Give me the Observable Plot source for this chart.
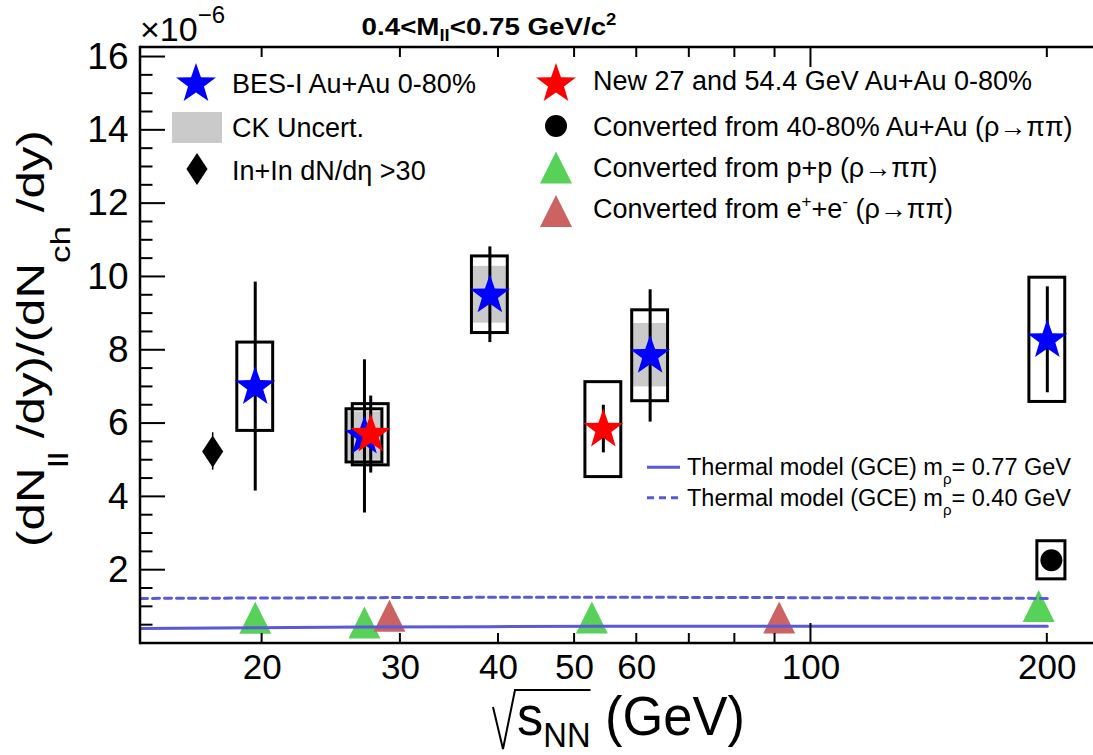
<!DOCTYPE html>
<html>
<head>
<meta charset="utf-8">
<script src="https://cdn.jsdelivr.net/npm/d3@7"></script>
<script src="https://cdn.jsdelivr.net/npm/@observablehq/plot@0.6"></script>
<style>
  body { margin: 0; background: #fff; }
  #chart svg { display: block; }
</style>
</head>
<body>
<div id="chart"></div>
<script>
// ---------------- data (values in units of 1e-6) ----------------
// BES-I Au+Au 0-80%
const besEnergy   = [19.6, 27, 39, 62.4, 200];
const besValue    = [7.0, 5.65, 9.5, 7.85, 8.28];
const besStatLow  = [4.16, 3.56, 8.21, 6.04, 6.84];
const besStatHigh = [9.86, 7.74, 10.82, 9.65, 9.73];
const besSysLow   = [5.80, 4.94, 8.47, 6.61, 6.59];
const besSysHigh  = [8.21, 6.39, 10.56, 9.09, 9.98];
// CK uncertainty bands
const ckEnergy = [27, 39, 62.4];
const ckLow    = [5.0, 8.74, 7.0];
const ckHigh   = [6.32, 10.29, 8.73];
// New 27 and 54.4 GeV Au+Au 0-80% (27 GeV point drawn slightly offset)
const newEnergy   = [27.5, 54.4];
const newValue    = [5.7, 5.84];
const newStatLow  = [4.65, 5.20];
const newStatHigh = [6.75, 6.50];
const newSysLow   = [4.86, 4.54];
const newSysHigh  = [6.53, 7.13];
// Converted from 40-80% Au+Au
const periEnergy  = [202.4];
const periValue   = [2.27];
const periSysLow  = [1.75];
const periSysHigh = [2.79];
// In+In dN/deta > 30
const inEnergy   = [17.3];
const inValue    = [5.24];
const inStatLow  = [4.73];
const inStatHigh = [5.75];
// Converted from p+p
const ppEnergy = [19.6, 27, 52.6, 195];
const ppValue  = [0.70, 0.57, 0.71, 1.02];
// Converted from e+e-
const eeEnergy = [29.05, 91.1];
const eeValue  = [0.76, 0.71];
// Thermal model (GCE)
const thermEnergy = [14, 19.6, 27, 39, 54.4, 62.4, 100, 200];
const therm077    = [0.41, 0.43, 0.45, 0.46, 0.47, 0.47, 0.47, 0.47];
const therm040    = [1.23, 1.24, 1.25, 1.26, 1.26, 1.26, 1.25, 1.23];
// axes
const xDomain = [14.0, 229];
const yDomain = [0, 16.26];
const xTickLabels = [20, 30, 40, 50, 60, 100, 200];
const xTicksShort = [20, 30, 40, 50, 60, 70, 80, 90, 200];
const xTicksLong  = [100];
const yTickLabels = [2, 4, 6, 8, 10, 12, 14, 16];
const yTicksMajor = [2, 4, 6, 8, 10, 12, 14, 16];
const yTicksMinor = d3.range(0.5, 16.26, 0.5).filter(v => v % 2 !== 0);

// ---------------- tables ----------------
const bes = besEnergy.map((e, i) => ({e, v: besValue[i], sl: besStatLow[i], sh: besStatHigh[i], yl: besSysLow[i], yh: besSysHigh[i]}));
const ck = ckEnergy.map((e, i) => ({e, lo: ckLow[i], hi: ckHigh[i]}));
const nw = newEnergy.map((e, i) => ({e, v: newValue[i], sl: newStatLow[i], sh: newStatHigh[i], yl: newSysLow[i], yh: newSysHigh[i]}));
const peri = periEnergy.map((e, i) => ({e, v: periValue[i], yl: periSysLow[i], yh: periSysHigh[i]}));
const inin = inEnergy.map((e, i) => ({e, v: inValue[i], sl: inStatLow[i], sh: inStatHigh[i]}));
const pp = ppEnergy.map((e, i) => ({e, v: ppValue[i]}));
const ee = eeEnergy.map((e, i) => ({e, v: eeValue[i]}));
const therm = thermEnergy.map((e, i) => ({e, a: therm077[i], b: therm040[i]}));

// ---------------- styles ----------------
const FONT = "'Liberation Sans', Arial, Helvetica, sans-serif";
const BLUE = "#0000ff", RED = "#ff0000", GREEN = "#58d158", ROSE = "#cc6262", LINE = "#5a5ad8", GREY = "#cacaca";
const boxF = 1.054;   // half-width of the systematic boxes (log-x factor)
const periF = 1.042;

// custom ROOT-like marker shapes
const starSym = {draw(ctx, size) {
  const R = Math.sqrt(size / Math.PI), r = R * 0.4;
  for (let i = 0; i < 10; i++) {
    const a = -Math.PI / 2 + i * Math.PI / 5, rr = i % 2 ? r : R;
    const px = rr * Math.cos(a), py = rr * Math.sin(a);
    i ? ctx.lineTo(px, py) : ctx.moveTo(px, py);
  }
  ctx.closePath();
}};
const triSym = {draw(ctx, size) {
  const h = Math.sqrt(size / Math.PI);
  ctx.moveTo(0, -h); ctx.lineTo(h, h); ctx.lineTo(-h, h); ctx.closePath();
}};
const diamondSym = {draw(ctx, size) {
  const h = Math.sqrt(size / Math.PI), w = h * 0.66;
  ctx.moveTo(0, -h); ctx.lineTo(w, 0); ctx.lineTo(0, h); ctx.lineTo(-w, 0); ctx.closePath();
}};

// frame + ROOT-style inward ticks, drawn through the plot's scales
function frameTicks(index, scales, values, dims) {
  const {x, y} = scales;
  const L = dims.marginLeft, R = dims.width - dims.marginRight;
  const T = dims.marginTop, B = dims.height - dims.marginBottom;
  const g = d3.create("svg:g").attr("stroke", "black").attr("fill", "none");
  const line = (x1, y1, x2, y2, w) => g.append("line").attr("x1", x1).attr("y1", y1).attr("x2", x2).attr("y2", y2).attr("stroke-width", w);
  for (const v of yTicksMajor) line(L, y(v), L + 25, y(v), 2);
  for (const v of yTicksMinor) line(L, y(v), L + 12.5, y(v), 2);
  for (const v of xTicksShort) { line(x(v), B, x(v), B - 10, 2); line(x(v), T, x(v), T + 10, 2); }
  for (const v of xTicksLong) { line(x(v), B, x(v), B - 20, 2); line(x(v), T, x(v), T + 20, 2); }
  line(L, T, R, T, 2.5);
  line(L, B, R, B, 2.5);
  line(L, T - 1.25, L, B + 1.25, 2.5);
  return g.node();
}

const plot = Plot.plot({
  width: 1093, height: 755,
  marginLeft: 140, marginRight: 0, marginTop: 47, marginBottom: 112,
  style: {fontFamily: FONT, background: "white", color: "black"},
  x: {type: "log", domain: xDomain},
  y: {domain: yDomain},
  marks: [
    Plot.axisY({ticks: yTickLabels, tickSize: 0, tickPadding: 12, fontSize: 37, label: null, tickFormat: d => d}),
    Plot.axisX({ticks: xTickLabels, tickSize: 0, tickPadding: 11, fontSize: 35, label: null, tickFormat: d => d}),
    // CK uncertainty
    Plot.rect(ck, {x1: d => d.e / boxF, x2: d => d.e * boxF, y1: "lo", y2: "hi", fill: GREY}),
    // systematic boxes
    Plot.rect(bes, {x1: d => d.e / boxF, x2: d => d.e * boxF, y1: "yl", y2: "yh", fill: "none", stroke: "black", strokeWidth: 3}),
    Plot.rect(nw, {x1: d => d.e / boxF, x2: d => d.e * boxF, y1: "yl", y2: "yh", fill: "none", stroke: "black", strokeWidth: 3}),
    Plot.rect(peri, {x1: d => d.e / periF, x2: d => d.e * periF, y1: "yl", y2: "yh", fill: "none", stroke: "black", strokeWidth: 3}),
    // statistical errors
    Plot.ruleX(bes, {x: "e", y1: "sl", y2: "sh", stroke: "black", strokeWidth: 3}),
    Plot.ruleX(nw, {x: "e", y1: "sl", y2: "sh", stroke: "black", strokeWidth: 3}),
    Plot.ruleX(inin, {x: "e", y1: "sl", y2: "sh", stroke: "black", strokeWidth: 1.5}),
    // converted p+p and e+e-
    Plot.dot(pp, {x: "e", y: "v", symbol: triSym, r: 16, fill: GREEN, stroke: null}),
    Plot.dot(ee, {x: "e", y: "v", symbol: triSym, r: 16, fill: ROSE, stroke: null}),
    // thermal model
    Plot.line(therm, {x: "e", y: "a", stroke: LINE, strokeWidth: 3}),
    Plot.line(therm, {x: "e", y: "b", stroke: LINE, strokeWidth: 3, strokeDasharray: "7,5"}),
    // markers
    Plot.dot(inin, {x: "e", y: "v", symbol: diamondSym, r: 16, fill: "black", stroke: null}),
    Plot.dot(bes, {x: "e", y: "v", symbol: starSym, r: 21, fill: BLUE, stroke: null}),
    Plot.dot(nw, {x: "e", y: "v", symbol: starSym, r: 21, fill: RED, stroke: null}),
    Plot.dot(peri, {x: "e", y: "v", r: 11, fill: "black", stroke: null}),
    frameTicks
  ]
});
document.getElementById("chart").append(plot);

// ---------------- annotations ----------------
const svg = d3.select(plot);
const ann = svg.append("g").attr("font-family", FONT).attr("fill", "black").attr("text-anchor", "start");
const sym = (s, r) => d3.symbol().type(s).size(r * r * Math.PI)();

// x10^-6
const mult = ann.append("text").attr("x", 140).attr("y", 41).attr("font-size", 34);
mult.append("tspan").text("×10");
mult.append("tspan").attr("font-size", 24).attr("dy", -18).text("−6");

// title
const title = ann.append("text").attr("font-weight", "bold").attr("font-size", 24).attr("text-anchor", "middle");
title.append("tspan").text("0.4<M");
title.append("tspan").attr("font-size", 16).attr("dy", 6).text("ll");
title.append("tspan").attr("dy", -6).text("<0.75 GeV/c");
title.append("tspan").attr("font-size", 16).attr("dy", -10).text("2");
{
  const w = title.node().getBBox().width;
  title.attr("transform", `translate(489,35) scale(${255 / w},1)`);
}

// y-axis title
const yt = ann.append("text").attr("font-size", 38).attr("text-anchor", "middle");
yt.append("tspan").text("(dN");
yt.append("tspan").attr("font-size", 27).attr("dy", 24).text("ll");
yt.append("tspan").attr("dy", -24).text(" /dy)/(dN");
yt.append("tspan").attr("font-size", 27).attr("dy", 26).text("ch");
yt.append("tspan").attr("dy", -26).text(" /dy)");
{
  const w = yt.node().getBBox().width;
  yt.attr("transform", `translate(44,338.5) rotate(-90) scale(${417 / w},1)`);
}

// x-axis title
const xt = ann.append("text").attr("font-size", 56);
const xs = xt.append("tspan").text("s");
const xn = xt.append("tspan").attr("font-size", 35).attr("dy", 12).text("NN");
xt.append("tspan").attr("dy", -12).text(" (GeV)");
{
  const w = xt.node().getBBox().width;
  const k = 228 / w;
  xt.attr("transform", `translate(517,735) scale(${k},1)`);
  const ovEnd = 517 + (xs.node().getComputedTextLength() + xn.node().getComputedTextLength()) * k;
  ann.append("path").attr("d", `M493,707 L503,749 L515,690 L${ovEnd},690`)
    .attr("fill", "none").attr("stroke", "black").attr("stroke-width", 2);
}

// legend (top)
const lg = ann.append("g").attr("font-size", 27);
lg.append("path").attr("d", sym(starSym, 21)).attr("transform", "translate(196,84)").attr("fill", BLUE);
lg.append("text").attr("x", 232).attr("y", 93).text("BES-I Au+Au 0-80%");
lg.append("rect").attr("x", 172).attr("y", 112).attr("width", 50).attr("height", 31).attr("fill", GREY);
lg.append("text").attr("x", 232).attr("y", 137).text("CK Uncert.");
lg.append("path").attr("d", sym(diamondSym, 16)).attr("transform", "translate(197,169)").attr("fill", "black");
lg.append("text").attr("x", 232).attr("y", 180).text("In+In dN/dη >30");

lg.append("path").attr("d", sym(starSym, 21)).attr("transform", "translate(556,84)").attr("fill", RED);
lg.append("text").attr("x", 593).attr("y", 90).text("New 27 and 54.4 GeV Au+Au 0-80%");
lg.append("circle").attr("cx", 556).attr("cy", 126).attr("r", 11).attr("fill", "black");
lg.append("text").attr("x", 593).attr("y", 136).text("Converted from 40-80% Au+Au (ρ→ππ)");
lg.append("path").attr("d", sym(triSym, 16)).attr("transform", "translate(556,167.5)").attr("fill", GREEN);
lg.append("text").attr("x", 593).attr("y", 177).text("Converted from p+p (ρ→ππ)");
lg.append("path").attr("d", sym(triSym, 16)).attr("transform", "translate(556,211)").attr("fill", ROSE);
const eeT = lg.append("text").attr("x", 593).attr("y", 218);
eeT.append("tspan").text("Converted from e");
eeT.append("tspan").attr("font-size", 17).attr("dy", -11).text("+");
eeT.append("tspan").attr("dy", 11).text("+e");
eeT.append("tspan").attr("font-size", 17).attr("dy", -11).text("-");
eeT.append("tspan").attr("dy", 11).text(" (ρ→ππ)");

// legend (thermal model)
const tl = ann.append("g").attr("font-size", 23.5);
tl.append("line").attr("x1", 647).attr("x2", 680).attr("y1", 467.3).attr("y2", 467.3).attr("stroke", LINE).attr("stroke-width", 3);
tl.append("line").attr("x1", 647).attr("x2", 680).attr("y1", 497.7).attr("y2", 497.7).attr("stroke", LINE).attr("stroke-width", 3).attr("stroke-dasharray", "7,5");
for (const [yy, val] of [[475, "0.77"], [506, "0.40"]]) {
  const t = tl.append("text").attr("x", 687).attr("y", yy);
  t.append("tspan").text("Thermal model (GCE) m");
  t.append("tspan").attr("font-size", 15).attr("dy", 9).text("ρ");
  t.append("tspan").attr("dy", -9).text(`= ${val} GeV`);
}
</script>
</body>
</html>
